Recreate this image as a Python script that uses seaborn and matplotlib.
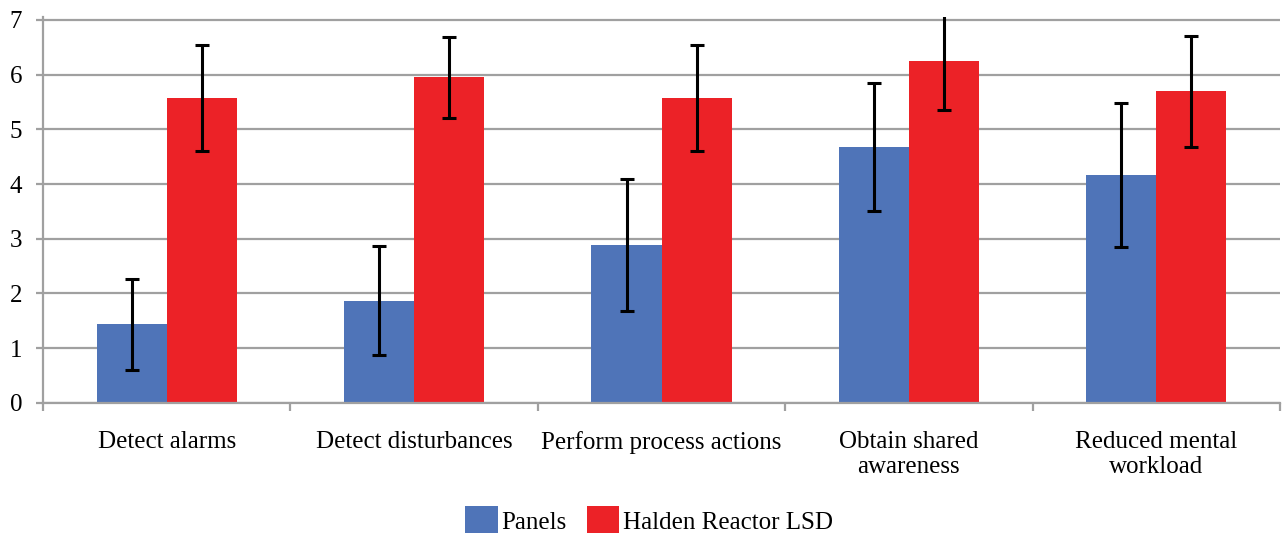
import numpy as np
import pandas as pd
import matplotlib
matplotlib.use("Agg")
import matplotlib.pyplot as plt
import seaborn as sns

# data
categories = ["Detect alarms", "Detect disturbances", "Perform process actions",
              "Obtain shared\nawareness", "Reduced mental\nworkload"]
series = ["Panels", "Halden Reactor LSD"]
panels_mean = [1.44, 1.87, 2.89, 4.67, 4.16]
panels_err = [0.83, 1.00, 1.21, 1.17, 1.32]
lsd_mean = [5.57, 5.95, 5.57, 6.24, 5.69]
lsd_err = [0.97, 0.74, 0.97, 0.88, 1.01]

df = pd.DataFrame({
    "category": categories * 2,
    "group": [series[0]] * 5 + [series[1]] * 5,
    "value": panels_mean + lsd_mean,
    "err": panels_err + lsd_err,
})

sns.set_style("white")
plt.rcParams["font.family"] = ["Liberation Serif", "DejaVu Serif"]

fig = plt.figure(figsize=(12.83, 5.33), dpi=100)
ax = fig.add_axes([0.0335, 0.244, 0.9642, 0.724])

sns.barplot(data=df, x="category", y="value", hue="group", hue_order=series,
            palette=["#4F74B8", "#EC2227"], width=0.566, errorbar=None,
            saturation=1, linewidth=0, ax=ax, legend=True)

# error bars on top of the seaborn bars
for cont, errs in zip(ax.containers, [panels_err, lsd_err]):
    for bar, e in zip(cont, errs):
        xc = bar.get_x() + bar.get_width() / 2
        ax.errorbar(xc, bar.get_height(), yerr=e, color="black", lw=2.2,
                    capsize=4.8, capthick=2.2, zorder=5)

ax.set_ylim(0, 7.05)
ax.set_xlim(-0.5, len(categories) - 0.5)
ax.set_yticks(range(8))
ax.yaxis.grid(True, color="#A0A0A0", lw=1.6)
ax.set_axisbelow(True)
ax.set_xlabel("")
ax.set_ylabel("")

for s in ["top", "right"]:
    ax.spines[s].set_visible(False)
for s in ["left", "bottom"]:
    ax.spines[s].set_color("#A0A0A0")
    ax.spines[s].set_linewidth(1.6)

ax.tick_params(axis="y", labelsize=18, length=5, color="#A0A0A0", width=1.6,
               left=True, pad=10, labelcolor="black")
ax.set_xticks(np.arange(len(categories)))
ax.set_xticklabels(categories, fontsize=18, linespacing=1.2)
ax.tick_params(axis="x", length=0, pad=20, labelcolor="black")
ax.set_xticks(np.arange(len(categories) + 1) - 0.5, minor=True)
ax.tick_params(axis="x", which="minor", length=6, color="#A0A0A0", width=1.6,
               bottom=True)

ax.legend(loc="lower center", bbox_to_anchor=(0.49, -0.40), ncol=2,
          frameon=False, fontsize=18, handlelength=1.3, handleheight=1.4,
          handletextpad=0.15, columnspacing=0.8, labelcolor="black")

fig.savefig("out.png", dpi=100)
